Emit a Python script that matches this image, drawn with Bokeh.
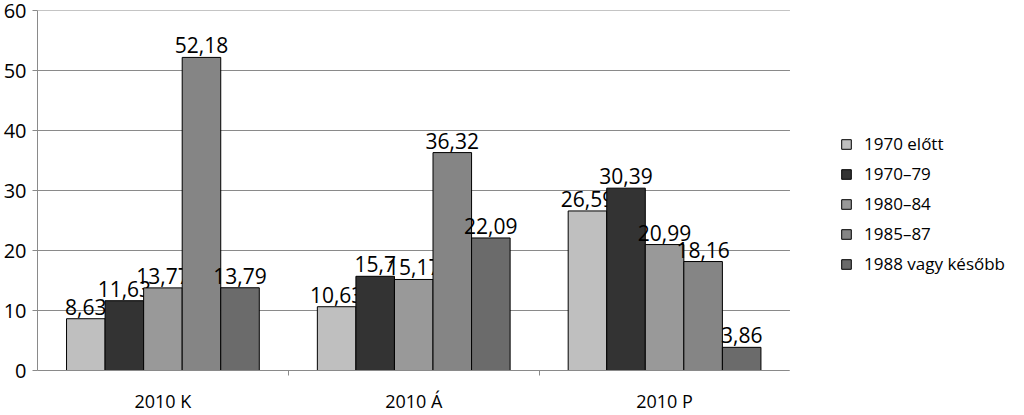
from bokeh.plotting import figure
from bokeh.models import ColumnDataSource, FixedTicker, Legend, LegendItem, Range1d
from bokeh.core.properties import value
from bokeh.embed import file_html
from bokeh.resources import INLINE

groups = ["2010 K", "2010 Á", "2010 P"]
series = ["1970 előtt", "1970–79", "1980–84", "1985–87", "1988 vagy később"]
v_1970_elott = [8.63, 10.63, 26.59]
v_1970_79 = [11.63, 15.7, 30.39]
v_1980_84 = [13.77, 15.17, 20.99]
v_1985_87 = [52.18, 36.32, 18.16]
v_1988 = [13.79, 22.09, 3.86]
y_ticks = [0, 10, 20, 30, 40, 50, 60]

all_values = [v_1970_elott, v_1970_79, v_1980_84, v_1985_87, v_1988]
colors = ["#bfbfbf", "#333333", "#999999", "#858585", "#6b6b6b"]
FONT = "Open Sans"

n = len(groups)
x_end = n * 982 / 761
p = figure(width=1008, height=415, output_backend="svg", toolbar_location=None,
           x_range=Range1d(0, x_end), y_range=Range1d(0, 60))
p.min_border_left = 26
p.min_border_right = 0
p.min_border_top = 10
p.min_border_bottom = 44
p.outline_line_color = None
p.xgrid.grid_line_color = None
p.ygrid.grid_line_color = None

# horizontal gridlines limited to the plotting area of the categories
p.segment(x0=[0] * len(y_ticks), x1=[n] * len(y_ticks), y0=y_ticks, y1=y_ticks,
          line_color="#8a8a8a", line_width=1)

bw = 0.1537
items = []
for j, (name, vals, col) in enumerate(zip(series, all_values, colors)):
    xs = [i + 0.5 + (j - 2) * bw for i in range(n)]
    src = ColumnDataSource(dict(x=xs, top=vals, lab=[f"{v:g}".replace(".", ",") for v in vals]))
    r = p.vbar(x="x", top="top", width=bw, bottom=0, source=src, fill_color=col,
               line_color="#000000", line_width=1)
    p.text(x="x", y="top", text="lab", source=src, text_align="center",
           text_baseline="alphabetic", y_offset=-12, text_font=value(FONT),
           text_font_size="21px", text_color="#000000")
    items.append(LegendItem(label=name, renderers=[r]))

p.yaxis.ticker = FixedTicker(ticks=y_ticks)
p.yaxis.axis_line_color = "#8a8a8a"
p.yaxis.major_tick_line_color = "#8a8a8a"
p.yaxis.major_tick_out = 5
p.yaxis.major_tick_in = 0
p.yaxis.minor_tick_line_color = None
p.yaxis.major_label_text_font = FONT
p.yaxis.major_label_text_font_size = "20px"
p.yaxis.major_label_text_color = "#000000"
p.yaxis.major_label_standoff = 6

p.xaxis.bounds = (0, n)
p.xaxis.ticker = FixedTicker(ticks=[i + 0.5 for i in range(n)], minor_ticks=list(range(1, n)))
p.xaxis.major_label_overrides = {i + 0.5: g for i, g in enumerate(groups)}
p.xaxis.axis_line_color = "#8a8a8a"
p.xaxis.major_tick_line_color = None
p.xaxis.minor_tick_line_color = "#8a8a8a"
p.xaxis.minor_tick_out = 5
p.xaxis.minor_tick_in = 0
p.xaxis.major_label_text_font = FONT
p.xaxis.major_label_text_font_size = "18px"
p.xaxis.major_label_text_color = "#000000"
p.xaxis.major_label_standoff = 12

legend = Legend(items=items, location=(803, 95), orientation="vertical")
legend.border_line_color = None
legend.background_fill_alpha = 0
legend.label_text_font = FONT
legend.label_text_font_size = "17px"
legend.label_text_color = "#000000"
legend.glyph_width = 12
legend.glyph_height = 12
legend.label_standoff = 12
legend.label_height = 20
legend.spacing = 7
legend.padding = 0
legend.margin = 0
p.add_layout(legend)

open("out.html", "w").write(file_html(p, INLINE))
